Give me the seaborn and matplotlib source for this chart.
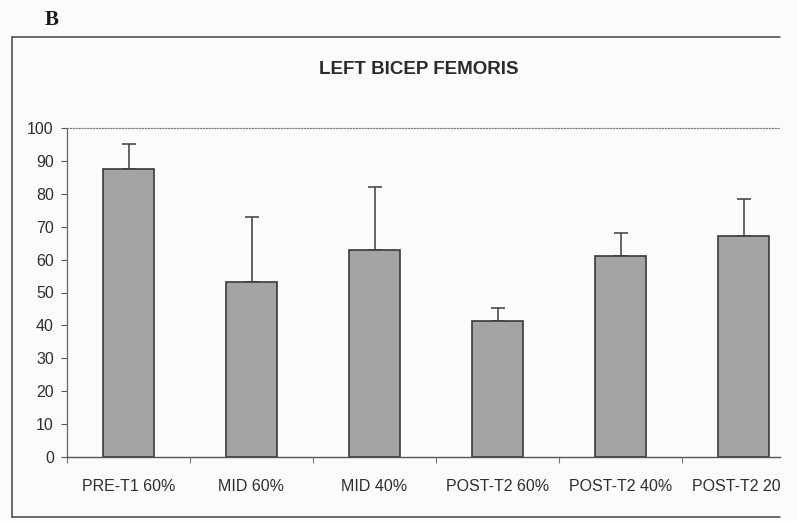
import matplotlib
matplotlib.use("Agg")
import matplotlib.pyplot as plt
from matplotlib.lines import Line2D
from matplotlib.transforms import Bbox
import seaborn as sns
import pandas as pd

# Peak torque (% of baseline) for the left biceps femoris
categories = ["PRE-T1 60%", "MID 60%", "MID 40%", "POST-T2 60%", "POST-T2 40%", "POST-T2 20%"]
means = [87.5, 53.2, 63.0, 41.2, 61.2, 67.2]
sd_upper = [7.5, 19.8, 19.0, 4.1, 6.9, 11.3]
y_ticks = [0, 10, 20, 30, 40, 50, 60, 70, 80, 90, 100]

sns.set_theme(style="white")
plt.rcParams["font.family"] = ["Liberation Sans", "DejaVu Sans"]

W, H = 797, 521
fig = plt.figure(figsize=(W / 100, H / 100), dpi=100)
fig.patch.set_facecolor("#fbfbfb")

# plot area in pixel coordinates (left, top, right, bottom); the right side is cut off
L, T, R, B = 67, 128, 780, 457
ax = fig.add_axes([L / W, 1 - B / H, (R - L) / W, (B - T) / H])
ax.set_facecolor("none")

df = pd.DataFrame({"condition": categories, "value": means})
sns.barplot(data=df, x="condition", y="value", ax=ax, width=0.41,
            color="#a4a4a4", saturation=1, edgecolor="#3a3a3a", linewidth=1.2, zorder=2)
ax.errorbar(range(len(categories)), means, yerr=[[0] * len(means), sd_upper],
            fmt="none", ecolor="#4a4a4a", elinewidth=1.2, capsize=5, capthick=1.2, zorder=1)

cat_w = 123
ax.set_xlim(-0.5, -0.5 + (R - L) / cat_w)
ax.set_ylim(0, 100)
ax.set_yticks(y_ticks)
ax.set_yticklabels([str(t) for t in y_ticks], fontsize=11.5, color="#2e2e2e")
ax.set_xlabel("")
ax.set_ylabel("")

ax.tick_params(axis="y", which="major", direction="out", length=4, width=0.8,
               color="#555555", left=True, pad=5.5)
ax.tick_params(axis="x", which="major", length=0, pad=16, labelsize=11.5, labelcolor="#2e2e2e")
# category boundary ticks
ax.set_xticks([i - 0.5 for i in range(len(categories))], minor=True)
ax.tick_params(axis="x", which="minor", direction="out", length=4, width=0.8,
               color="#777777", bottom=True)

ax.spines["right"].set_visible(False)
ax.spines["left"].set_color("#666666")
ax.spines["left"].set_linewidth(0.9)
ax.spines["bottom"].set_color("#555555")
ax.spines["bottom"].set_linewidth(1.0)
ax.spines["top"].set_color("#777777")
ax.spines["top"].set_linewidth(0.8)
ax.spines["top"].set_linestyle((0, (1, 1.6)))

# clip the last category label at the cut-off edge
clip = Bbox.from_extents(0, 0, R, H)
for lab in ax.get_xticklabels():
    lab.set_clip_box(clip)
    lab.set_clip_on(True)

fig.text(419 / W, 1 - 69 / H, "LEFT BICEP FEMORIS", ha="center", va="center",
         fontsize=13.5, fontweight="bold", color="#2a2a2a")
fig.text(45 / W, 1 - 20 / H, "B", ha="left", va="center", fontsize=15,
         fontweight="bold", family="Liberation Serif", color="#1a1a1a")

# outer frame of the chart (open on the right where it is cut off)
fx0, fy0, fx1, fy1 = 12, 37, 780, 517
for xs, ys in [((fx0, fx1), (fy0, fy0)), ((fx0, fx0), (fy0, fy1)), ((fx0, fx1), (fy1, fy1))]:
    fig.add_artist(Line2D([x / W for x in xs], [1 - y / H for y in ys],
                          color="#444444", linewidth=1.1, transform=fig.transFigure))

fig.savefig("out.png", dpi=100, facecolor=fig.get_facecolor())
